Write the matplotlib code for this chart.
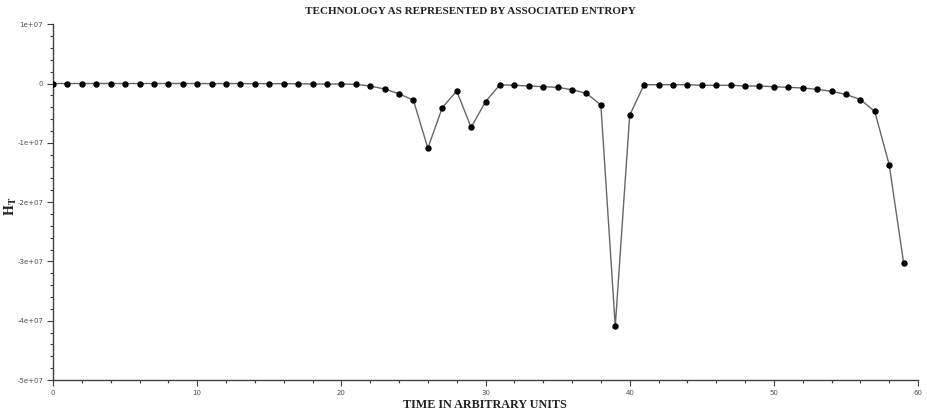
import numpy as np
import matplotlib
matplotlib.use("Agg")
import matplotlib.pyplot as plt
from matplotlib.ticker import MultipleLocator, FuncFormatter

# time steps and associated entropy H_T
t = np.arange(0, 60)
h_t = np.array([
    -0.00e6, -0.00e6, -0.00e6, -0.00e6, -0.00e6, -0.00e6, -0.00e6, -0.00e6,
    -0.00e6, -0.00e6, -0.01e6, -0.01e6, -0.01e6, -0.01e6, -0.02e6, -0.02e6,
    -0.03e6, -0.04e6, -0.08e6, -0.08e6, -0.09e6, -0.13e6, -0.42e6, -0.93e6,
    -1.72e6, -2.83e6, -10.9e6, -4.08e6, -1.26e6, -7.39e6, -3.07e6, -0.20e6,
    -0.30e6, -0.42e6, -0.54e6, -0.64e6, -1.05e6, -1.65e6, -3.63e6, -40.9e6,
    -5.36e6, -0.20e6, -0.20e6, -0.20e6, -0.20e6, -0.30e6, -0.30e6, -0.30e6,
    -0.42e6, -0.42e6, -0.54e6, -0.64e6, -0.76e6, -0.98e6, -1.31e6, -1.85e6,
    -2.70e6, -4.70e6, -13.7e6, -30.2e6,
])

plt.rcParams['mathtext.fontset'] = 'stix'

fig = plt.figure(figsize=(9.27, 4.16), dpi=100)
ax = fig.add_axes([0.0572, 0.0865, 0.9331, 0.8553])

ax.plot(t, h_t, color='#666666', lw=1.0, zorder=2)
ax.plot(t, h_t, 'o', color='black', ms=3.6, mec='black', zorder=3)

ax.set_xlim(0, 60)
ax.set_ylim(-5e7, 1e7)
ax.xaxis.set_major_locator(MultipleLocator(10))
ax.xaxis.set_minor_locator(MultipleLocator(2))
ax.yaxis.set_major_locator(MultipleLocator(1e7))
ax.yaxis.set_minor_locator(MultipleLocator(2e6))


def sci(v, pos):
    if v == 0:
        return '0'
    m = int(round(v / 1e7))
    return f'{m}e+07'


ax.yaxis.set_major_formatter(FuncFormatter(sci))

for s in ['top', 'right']:
    ax.spines[s].set_visible(False)
for s in ['left', 'bottom']:
    ax.spines[s].set_color('#404040')
    ax.spines[s].set_linewidth(1.0)

ax.tick_params(which='major', length=4, width=0.8, color='#404040',
               labelsize=5, labelcolor='#505050', pad=3)
ax.tick_params(which='minor', length=2.5, width=0.8, color='#404040')

fig.text(0.507, 0.972, 'TECHNOLOGY AS REPRESENTED BY ASSOCIATED ENTROPY',
         ha='center', va='center', family='Liberation Serif',
         fontweight='bold', fontsize=8, color='#222222')
fig.text(0.523, 0.026, 'TIME IN ARBITRARY UNITS', ha='center', va='center',
         family='Liberation Serif', fontweight='bold', fontsize=8.7,
         color='#222222')
fig.text(0.012, 0.505, r'$\mathbf{H_T}$', ha='center', va='center',
         rotation=90, fontsize=10, color='#222222')

fig.savefig('out.png', dpi=100)
